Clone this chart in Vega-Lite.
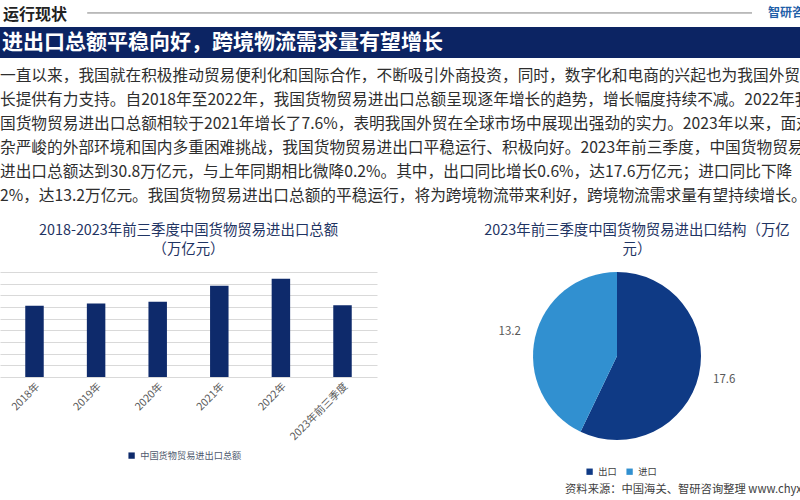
{
  "$schema": "https://vega.github.io/schema/vega-lite/v6.json",
  "padding": 0,
  "background": "white",
  "config": {"view": {"stroke": null}, "font": "Noto Sans CJK SC"},
  "spacing": 0,
  "bounds": "flush",
  "vconcat": [
    {
      "width": 800,
      "height": 27,
      "data": {"values": [{"label": "运行现状", "brand": "智研咨询"}]},
      "layer": [
        {
          "mark": {"type": "text", "align": "left", "baseline": "middle", "fontSize": 16, "fontWeight": "bold", "color": "#222222", "dx": 3},
          "encoding": {
            "text": {"field": "label"},
            "x": {"datum": 0, "type": "quantitative", "scale": {"domain": [0, 100]}, "axis": null},
            "y": {"datum": 0.45, "type": "quantitative", "scale": {"domain": [0, 1]}, "axis": null}
          }
        },
        {
          "mark": {"type": "rule", "color": "#7f7f7f", "strokeWidth": 1},
          "encoding": {
            "x": {"datum": 10.9, "type": "quantitative"},
            "x2": {"datum": 94},
            "y": {"datum": 0.52, "type": "quantitative"}
          }
        },
        {
          "mark": {"type": "text", "align": "left", "baseline": "middle", "fontSize": 12, "fontWeight": "bold", "color": "#1f5fa8"},
          "encoding": {
            "text": {"field": "brand"},
            "x": {"datum": 96, "type": "quantitative"},
            "y": {"datum": 0.52, "type": "quantitative"}
          }
        }
      ]
    },
    {
      "width": 800,
      "height": 31,
      "view": {"fill": "#0c2463", "stroke": null},
      "data": {"values": [{"headline": "进出口总额平稳向好，跨境物流需求量有望增长"}]},
      "mark": {"type": "text", "align": "left", "baseline": "middle", "fontSize": 21, "fontWeight": "bold", "color": "white", "dx": 2},
      "encoding": {
        "text": {"field": "headline"},
        "x": {"datum": 0, "type": "quantitative", "scale": {"domain": [0, 100]}, "axis": null}
      }
    },
    {
      "width": 800,
      "height": 213.7,
      "data": {"values": [
        {"n": 1, "line": "一直以来，我国就在积极推动贸易便利化和国际合作，不断吸引外商投资，同时，数字化和电商的兴起也为我国外贸增"},
        {"n": 2, "line": "长提供有力支持。自2018年至2022年，我国货物贸易进出口总额呈现逐年增长的趋势，增长幅度持续不减。2022年我"},
        {"n": 3, "line": "国货物贸易进出口总额相较于2021年增长了7.6%，表明我国外贸在全球市场中展现出强劲的实力。2023年以来，面对"},
        {"n": 4, "line": "杂严峻的外部环境和国内多重困难挑战，我国货物贸易进出口平稳运行、积极向好。2023年前三季度，中国货物贸易"},
        {"n": 5, "line": "进出口总额达到30.8万亿元，与上年同期相比微降0.2%。其中，出口同比增长0.6%，达17.6万亿元；进口同比下降"},
        {"n": 6, "line": "2%，达13.2万亿元。我国货物贸易进出口总额的平稳运行，将为跨境物流带来利好，跨境物流需求量有望持续增长。"}
      ]},
      "mark": {"type": "text", "align": "left", "baseline": "middle", "fontSize": 15.7, "color": "#2e2e2e", "clip": true},
      "encoding": {
        "text": {"field": "line"},
        "y": {"field": "n", "type": "quantitative", "axis": null, "scale": {"domain": [0.25, 9.154], "reverse": true, "nice": false, "zero": false}},
        "x": {"datum": 0, "type": "quantitative", "scale": {"domain": [0, 100]}, "axis": null}
      }
    },
    {
      "spacing": 156,
      "bounds": "flush",
      "resolve": {"scale": {"color": "independent"}, "legend": {"color": "independent"}},
      "hconcat": [
        {
          "width": 377,
          "height": 105,
          "title": {"text": ["2018-2023年前三季度中国货物贸易进出口总额", "（万亿元）"], "fontSize": 14.4, "fontWeight": "normal", "color": "#1f3463", "lineHeight": 19, "offset": 15},
          "data": {"values": [
            {"period": "2018年", "value": 30.5, "series": "中国货物贸易进出口总额"},
            {"period": "2019年", "value": 31.5, "series": "中国货物贸易进出口总额"},
            {"period": "2020年", "value": 32.2, "series": "中国货物贸易进出口总额"},
            {"period": "2021年", "value": 39.1, "series": "中国货物贸易进出口总额"},
            {"period": "2022年", "value": 42.1, "series": "中国货物贸易进出口总额"},
            {"period": "2023年前三季度", "value": 30.8, "series": "中国货物贸易进出口总额"}
          ]},
          "mark": {"type": "bar"},
          "encoding": {
            "x": {"field": "period", "type": "nominal", "sort": null, "scale": {"paddingInner": 0.7, "paddingOuter": 0.41},
                  "axis": {"title": null, "labelAngle": -45, "labelFontSize": 10.5, "labelColor": "#595959", "ticks": false, "domain": false, "labelPadding": 4}},
            "y": {"field": "value", "type": "quantitative", "scale": {"domain": [0, 45], "nice": false},
                  "axis": {"title": null, "labels": false, "ticks": false, "domain": false, "values": [0, 5, 10, 15, 20, 25, 30, 35, 40, 45], "gridColor": "#d9d9d9"}},
            "color": {"field": "series", "type": "nominal", "scale": {"range": ["#0e2a6b"]},
                      "legend": {"title": null, "orient": "none", "legendX": 127, "legendY": 179, "direction": "horizontal", "symbolType": "square", "symbolSize": 40, "labelFontSize": 9.2, "labelColor": "#4f5a6e"}}
          }
        },
        {
          "spacing": 43.3,
          "bounds": "flush",
          "resolve": {"scale": {"color": "independent"}, "legend": {"color": "independent"}},
          "vconcat": [
            {
              "width": 168,
              "height": 168,
              "title": {"text": ["2023年前三季度中国货物贸易进出口结构（万亿", "元）"], "fontSize": 14.4, "fontWeight": "normal", "color": "#1f3463", "lineHeight": 19, "offset": 15, "dx": 20},
              "data": {"values": [
                {"type": "出口", "value": 17.6},
                {"type": "进口", "value": 13.2}
              ]},
              "encoding": {
                "theta": {"field": "value", "type": "quantitative", "stack": true},
                "order": {"field": "type", "sort": "ascending"}
              },
              "layer": [
                {
                  "mark": {"type": "arc"},
                  "encoding": {
                    "color": {"field": "type", "type": "nominal", "scale": {"domain": ["出口", "进口"], "range": ["#0f3a85", "#3190d0"]},
                              "legend": {"title": null, "orient": "none", "legendX": 52, "legendY": 195, "direction": "horizontal", "symbolType": "square", "symbolSize": 40, "labelFontSize": 9.2, "labelColor": "#404040", "columnPadding": 8}}
                  }
                },
                {
                  "mark": {"type": "text", "radius": 110, "fontSize": 11.5, "color": "#595959"},
                  "encoding": {
                    "detail": {"field": "type"},
                    "text": {"field": "value", "type": "quantitative", "format": ".1f"}
                  }
                }
              ]
            },
            {
              "width": 267,
              "height": 14,
              "data": {"values": [{"source": "资料来源：中国海关、智研咨询整理 www.chyxx.com"}]},
              "mark": {"type": "text", "align": "left", "baseline": "middle", "fontSize": 11.3, "color": "#404040", "clip": true},
              "encoding": {
                "text": {"field": "source"},
                "x": {"datum": 12, "type": "quantitative", "scale": {"domain": [0, 100]}, "axis": null}
              }
            }
          ]
        }
      ]
    }
  ]
}
